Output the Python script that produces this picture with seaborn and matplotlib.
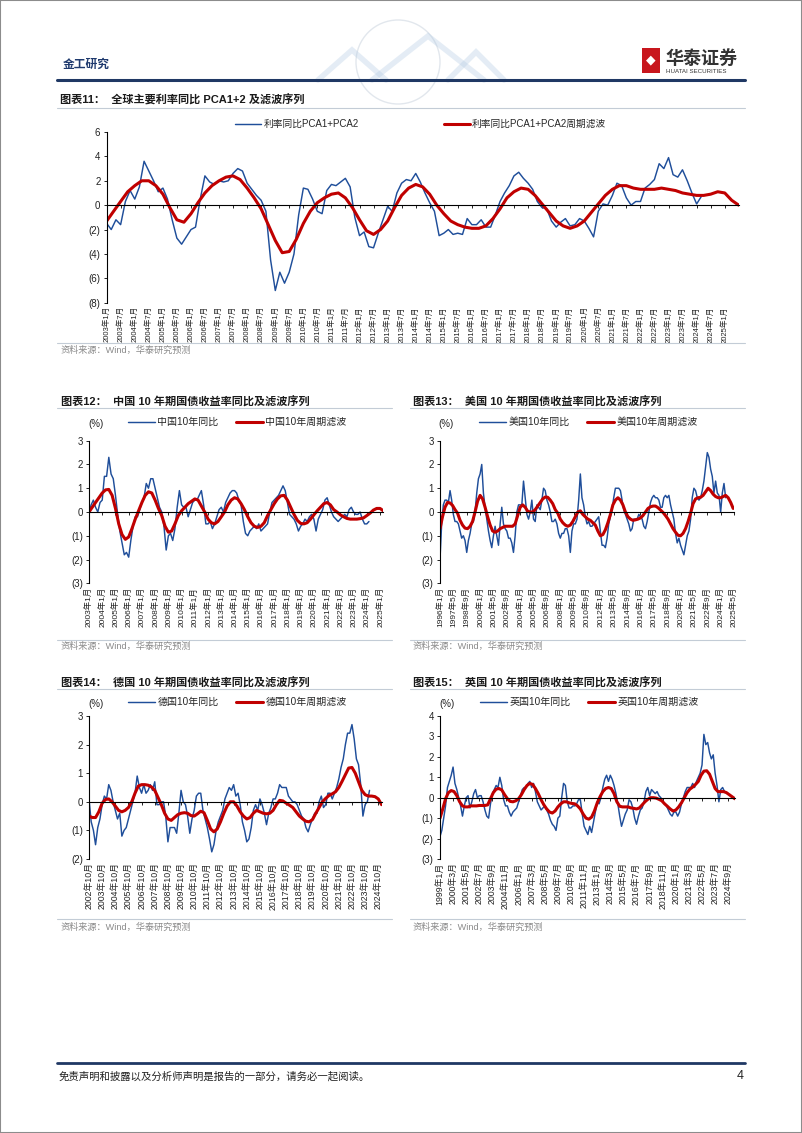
import numpy as np
import pandas as pd
import matplotlib
matplotlib.use("Agg")
import matplotlib.pyplot as plt
import matplotlib.dates as mdates
from matplotlib.lines import Line2D
from matplotlib.patches import Rectangle, Ellipse
from matplotlib.ticker import FuncFormatter
import seaborn as sns

sns.set_theme(style="white")
plt.rcParams["font.family"] = ["Liberation Sans", "Noto Sans CJK SC", "DejaVu Sans"]
plt.rcParams["axes.unicode_minus"] = False

BLUE = "#1f4e9a"
RED = "#c00000"
NAVY = "#1f3864"
RULE = "#c3ccd6"
W, H = 802, 1133

# ── 图表11: global PCA1+2 (blue every 2 months, red every 3 months, from 2003-01)
start_11 = "2003-01-01"
pca_yoy = [
    -1.5, -2.0, -1.2, -1.6, 0.3, 1.2,
    0.5, 1.5, 3.6, 2.8, 2.0, 1.1,
    1.4, 0.5, -1.2, -2.7, -3.2, -2.6,
    -2.0, -1.8, 0.5, 2.4, 1.9, 1.7,
    2.0, 1.9, 2.0, 2.6, 3.0, 2.8,
    1.8, 1.3, 0.8, 0.4, -0.5, -4.5,
    -7.0, -5.5, -6.4, -5.5, -4.0, -0.8,
    1.4, 1.3, 0.5, -0.5, -0.7, 1.2,
    1.7, 1.6, 1.9, 2.2, 1.5, -1.0,
    -2.5, -2.2, -3.4, -3.5, -2.3, -1.2,
    -0.1, -0.5, 1.0, 1.8, 2.1, 2.0,
    2.6, 1.9, 1.0, 0.2, -0.5, -2.5,
    -2.3, -2.0, -2.4, -2.3, -2.4, -1.1,
    -1.6, -1.6, -1.2, -1.8, -1.8, -0.8,
    0.3, 1.0, 1.6, 2.4, 2.7, 2.2,
    1.8, 1.3, 0.3, -0.2, -0.3, -1.3,
    -1.8, -1.4, -1.1, -1.7, -1.6, -1.1,
    -1.3, -1.9, -2.6, -0.5, 0.1, 0.0,
    0.8, 1.8, 1.6, 0.6, 0.0, 0.3,
    0.3, 1.4, 1.7, 2.1, 3.4, 3.0,
    3.9, 2.5, 2.3, 2.9, 2.0, 1.0,
    0.1, 0.7,
]
pca_filter = [
    -1.3, -0.5, 0.3, 1.1, 1.6, 2.0, 2.0, 1.6, 0.9, -0.2,
    -1.2, -1.4, -0.7, 0.2, 1.0, 1.6, 2.0, 2.3, 2.4, 2.1,
    1.4, 0.6, -0.3, -1.6, -2.9, -3.9, -3.8, -2.8, -1.5, -0.5,
    0.2, 0.6, 0.9, 1.0, 0.6, -0.2, -1.2, -2.1, -2.4, -2.0,
    -1.3, -0.2, 0.8, 1.4, 1.7, 1.5, 0.9, 0.0, -0.7, -1.3,
    -1.6, -1.8, -1.9, -1.9, -1.7, -1.1, -0.3, 0.6, 1.1, 1.4,
    1.3, 0.8, 0.1, -0.6, -1.3, -1.7, -1.9, -1.7, -1.3, -0.6,
    0.1, 0.8, 1.3, 1.6, 1.6, 1.4, 1.3, 1.3, 1.3, 1.4,
    1.3, 1.2, 1.0, 0.9, 0.8, 0.8, 0.9, 1.1, 1.0, 0.4,
    0.0,
]
ticks_11 = ("2003年1月 2003年7月 2004年1月 2004年7月 2005年1月 2005年7月 2006年1月 2006年7月 "
            "2007年1月 2007年7月 2008年1月 2008年7月 2009年1月 2009年7月 2010年1月 2010年7月 "
            "2011年1月 2011年7月 2012年1月 2012年7月 2013年1月 2013年7月 2014年1月 2014年7月 "
            "2015年1月 2015年7月 2016年1月 2016年7月 2017年1月 2017年7月 2018年1月 2018年7月 "
            "2019年1月 2019年7月 2020年1月 2020年7月 2021年1月 2021年7月 2022年1月 2022年7月 "
            "2023年1月 2023年7月 2024年1月 2024年7月 2025年1月").split()

# ── 图表12: China 10y
start_12 = "2003-01-01"
cn_yoy = [
    0.0, 0.3, 0.5, 0.2, 0.0, 0.4,
    0.5, 1.5, 1.5, 2.3, 1.6, 1.4,
    0.7, -0.1, -0.8, -1.3, -1.8, -1.7,
    -1.9, -1.2, -0.6, -0.2, -0.2, 0.1,
    0.4, 0.6, 1.2, 1.0, 1.4, 1.4,
    1.0, 0.6, 0.2, 0.0, -0.6, -1.6,
    -1.0, -0.9, -1.2, -0.7, 0.2, 0.9,
    0.3, 0.2, 0.2, -0.2, 0.1, 0.4,
    0.5, 0.5, 0.7, 0.9, 0.3, -0.5,
    -0.5, -0.4, -0.7, -0.5, -0.2, 0.1,
    0.2, 0.0, 0.4, 0.6, 0.8, 0.9,
    0.9, 0.8, 0.5, 0.3, -0.4, -0.9,
    -1.0, -0.8, -0.7, -0.6, -0.7, -0.5,
    -0.8, -0.7, -0.6, -0.5, 0.0, 0.4,
    0.5, 0.6, 0.7, 0.9, 1.1, 0.9,
    0.4, -0.1, -0.2, -0.3, -0.5, -0.8,
    -0.6, -0.5, -0.3, -0.4, -0.2, -0.1,
    -0.3, -0.8, -0.3, -0.1, 0.1, 0.5,
    0.6, 0.3, 0.0, -0.2, -0.3, -0.4,
    -0.3, -0.2, -0.1, -0.2, 0.1, 0.2,
    0.0, -0.1, -0.1, 0.0, -0.3, -0.5,
    -0.5, -0.4,
]
cn_filter = [
    0.0, 0.2, 0.4, 0.6, 0.8, 0.93, 0.95, 0.7, 0.15, -0.5,
    -0.95, -1.15, -1.05, -0.7, -0.3, 0.05, 0.4, 0.7, 0.85, 0.8,
    0.5, 0.15, -0.15, -0.6, -0.85, -0.8, -0.5, -0.15, 0.05, 0.2,
    0.35, 0.45, 0.55, 0.5, 0.25, 0.0, -0.3, -0.45, -0.5, -0.4,
    -0.2, 0.0, 0.3, 0.5, 0.6, 0.55, 0.35, 0.1, -0.2, -0.45,
    -0.6, -0.65, -0.6, -0.45, -0.15, 0.1, 0.35, 0.55, 0.68, 0.7,
    0.5, 0.2, -0.1, -0.35, -0.48, -0.5, -0.45, -0.3, -0.12, 0.05,
    0.2, 0.35, 0.4, 0.3, 0.1, 0.0, -0.12, -0.2, -0.27, -0.3,
    -0.3, -0.3, -0.28, -0.25, -0.15, -0.05, 0.08, 0.15, 0.15, 0.05,
]
ticks_12 = ("2003年1月 2004年1月 2005年1月 2006年1月 2007年1月 2008年1月 2009年1月 2010年1月 "
            "2011年1月 2012年1月 2013年1月 2014年1月 2015年1月 2016年1月 2017年1月 2018年1月 "
            "2019年1月 2020年1月 2021年1月 2022年1月 2023年1月 2024年1月 2025年1月").split()

# ── 图表13: US 10y
start_13 = "1996-01-01"
us_yoy = [
    -2.0, -0.5, 0.3, 0.5, 0.5, 0.4,
    0.9, 0.5, -0.1, -0.4, -0.4, -0.5,
    -0.8, -1.1, -1.0, -1.2, -1.7, -1.2,
    -0.9, -0.5, -0.4, 0.0, 0.8, 1.4,
    1.6, 2.0, 0.8, 0.2, -0.3, -0.8,
    -1.2, -1.5, -1.0, -0.6, -1.0, -1.4,
    -0.5, 0.2, -0.5, -0.7, -0.8, -1.1,
    -1.1, -1.3, -1.7, -1.0, 0.0, 0.3,
    0.3, 0.3, 1.3, 0.6, -0.1, -0.3,
    0.0, 0.5, -0.3, -0.4, 0.3, 0.2,
    0.1, 0.5, 1.0, 0.9, 0.5, 0.3,
    0.0, -0.4, -0.4, -0.3, -0.5, -0.9,
    -1.1, -0.9, -0.9, -0.7, -0.7, -1.0,
    -1.7, -0.8, -0.5, -0.5, -0.3, 0.5,
    1.6, 0.6, 0.3, -0.2, -0.5, -0.4,
    -0.6, -0.6, -0.5, -0.4, -0.3, -0.2,
    -0.8, -1.4, -1.4, -1.5, -1.1, -0.5,
    -0.2, 0.1, 0.6, 1.0, 1.0, 1.0,
    0.9, 0.5, 0.1, -0.1, -0.3, -0.5,
    -0.8, -0.7, -0.3, -0.3, -0.3, -0.1,
    -0.2, -0.3, -0.6, -0.7, -0.4, 0.0,
    0.4, 0.6, 0.7, 0.6, 0.6, 0.5,
    0.2, 0.2, 0.6, 0.7, 0.6, 0.7,
    0.3, 0.0, -0.3, -0.9, -1.3, -1.1,
    -1.4, -1.6, -1.8, -1.4, -1.0, -0.8,
    -0.3, 0.6, 1.0, 0.9, 0.6, 0.5,
    0.6, 0.9, 1.3, 1.9, 2.5, 2.3,
    1.8, 1.5, 0.8, 1.3, 0.8, 0.7,
    0.0, 0.8, 1.2, 0.6,
]
us_filter = [
    -0.7, -0.2, 0.2, 0.4, 0.38, 0.28, 0.1, -0.05, -0.35, -0.55,
    -0.68, -0.7, -0.6, -0.4, 0.0, 0.45, 0.7, 0.55, 0.2, -0.2,
    -0.55, -0.8, -0.85, -0.8, -0.7, -0.65, -0.6, -0.6, -0.6, -0.6,
    -0.5, -0.15, 0.2, 0.3, 0.2, 0.03, 0.0, 0.0, 0.1, 0.25,
    0.4, 0.55, 0.63, 0.62, 0.5, 0.35, 0.1, -0.05, -0.3, -0.45,
    -0.55, -0.6, -0.55, -0.4, -0.2, 0.0, 0.05, -0.1, -0.2, -0.3,
    -0.35, -0.45, -0.55, -0.8, -1.0, -0.95, -0.75, -0.45, -0.1, 0.3,
    0.5, 0.6, 0.5, 0.3, 0.0, -0.2, -0.3, -0.35, -0.33, -0.3,
    -0.25, -0.15, 0.0, 0.15, 0.22, 0.25, 0.25, 0.18, 0.08, -0.02,
    -0.15, -0.3, -0.5, -0.7, -0.85, -0.98, -1.0, -0.9, -0.7, -0.4,
    -0.05, 0.35, 0.55, 0.6, 0.62, 0.7, 0.85, 1.0, 0.9, 0.75,
    0.65, 0.6, 0.6, 0.65, 0.7, 0.6, 0.4, 0.15,
]
ticks_13 = ("1996年1月 1997年5月 1998年9月 2000年1月 2001年5月 2002年9月 2004年1月 2005年5月 "
            "2006年9月 2008年1月 2009年5月 2010年9月 2012年1月 2013年5月 2014年9月 2016年1月 "
            "2017年5月 2018年9月 2020年1月 2021年5月 2022年9月 2024年1月 2025年5月").split()

# ── 图表14: Germany 10y
start_14 = "2002-10-01"
de_yoy = [
    0.1, -0.7, -1.0, -1.5, -0.9, -0.6,
    -0.1, 0.2, 0.1, 0.6, 0.4, 0.0,
    -0.3, -0.6, -0.4, -1.2, -1.0, -0.9,
    -0.6, -0.3, 0.0, 0.3, 0.9, 0.5,
    0.3, 0.6, 0.3, 0.4, 0.6, 0.4,
    0.7, -0.1, -0.1, 0.0, 0.0, -0.5,
    -1.4, -0.9, -0.9, -0.9, -1.1, -0.4,
    0.4, 0.0, -0.1, -0.5, -1.1, -0.6,
    -0.3, 0.2, 0.3, 0.3, -0.3, -0.6,
    -0.9, -1.3, -1.75, -1.5, -1.0, -0.7,
    -0.5, -0.3, 0.1, 0.3, 0.5, 0.4,
    0.6, 0.2, 0.3, -0.1, -0.7, -1.0,
    -1.4, -1.3, -0.9, -0.3, -0.1, -0.3,
    0.1, -0.1, -0.4, -0.8, -0.4, -0.2,
    0.1, 0.1, 0.3, 0.6, 0.5, 0.5,
    0.5, 0.2, 0.1, 0.0, 0.0, -0.1,
    -0.3, -0.5, -0.6, -0.9, -1.05, -0.8,
    -0.6, -0.4, -0.4, 0.0, 0.2, -0.2,
    -0.1, 0.3, 0.3, 0.1, 0.3, 0.5,
    0.8, 1.2, 1.5, 2.0, 2.4, 2.4,
    2.7, 2.2, 1.5, 1.3, 0.6, -0.5,
    -0.1, 0.0, 0.4,
]
de_filter = [
    -0.5, -0.55, -0.55, -0.35, -0.05, 0.08, 0.1, 0.0, -0.15, -0.3,
    -0.35, -0.3, -0.2, 0.0, 0.3, 0.55, 0.6, 0.6, 0.58, 0.52,
    0.4, 0.15, -0.1, -0.4, -0.6, -0.65, -0.55, -0.45, -0.4, -0.38,
    -0.4, -0.48, -0.5, -0.42, -0.33, -0.38, -0.65, -0.95, -1.05, -0.95,
    -0.7, -0.4, -0.15, 0.0, 0.0, -0.15, -0.35, -0.5, -0.6, -0.55,
    -0.4, -0.3, -0.35, -0.4, -0.42, -0.4, -0.3, -0.1, 0.05, 0.03,
    -0.05, -0.12, -0.2, -0.35, -0.5, -0.6, -0.68, -0.7, -0.62, -0.4,
    -0.2, 0.0, 0.12, 0.22, 0.28, 0.35, 0.5, 0.72, 0.95, 1.18,
    1.2, 1.0, 0.7, 0.4, 0.25, 0.2, 0.2, 0.18, 0.1, -0.1,
]
ticks_14 = ("2002年10月 2003年10月 2004年10月 2005年10月 2006年10月 2007年10月 2008年10月 "
            "2009年10月 2010年10月 2011年10月 2012年10月 2013年10月 2014年10月 2015年10月 "
            "2016年10月 2017年10月 2018年10月 2019年10月 2020年10月 2021年10月 2022年10月 "
            "2023年10月 2024年10月").split()

# ── 图表15: UK 10y
start_15 = "1999-01-01"
uk_yoy = [
    -1.9, -1.6, -1.0, -0.4, 0.5, 0.8,
    1.1, 1.5, 0.7, 0.4, 0.0, -0.4,
    -0.9, -0.4, 0.0, 0.1, -0.5, -0.2,
    0.2, 0.4, 0.0, 0.1, 0.1, -0.2,
    -0.6, -0.9, -1.0, -0.3, 0.2, 0.4,
    0.6, 0.5, 1.0, 0.6, -0.1, -0.4,
    -0.4, -0.7, -0.9, -0.7, -0.6, -0.5,
    -0.2, 0.1, 0.4, 0.5, 0.5, 0.7,
    0.8, 0.5, 0.7, 0.3, -0.2, -0.4,
    -0.6, -0.5, -0.4, -0.6, -0.8, -1.1,
    -1.3, -1.4, -1.6, -1.0, -0.9, 0.0,
    0.7, 0.6, -0.2, -0.5, -0.5, -0.4,
    -0.4, -0.3, -0.1, -0.1, -0.8, -1.4,
    -1.6, -1.8, -1.4, -1.7, -1.2, -0.7,
    -0.2, -0.3, 0.0, 0.5, 0.9, 1.1,
    0.8, 1.1, 0.9, 0.6, 0.2, -0.3,
    -0.9, -1.4, -1.1, -0.8, -0.6, -0.1,
    -0.2, -0.5, -1.0, -1.3, -0.9, -0.6,
    -0.5, -0.2, 0.3, 0.5, 0.1, 0.4,
    0.3, 0.2, 0.3, 0.1, 0.0, -0.2,
    -0.3, -0.4, -0.6, -0.8, -0.9, -0.7,
    -0.7, -0.9, -0.7, -0.3, 0.0, 0.3,
    0.5, 0.5, 0.5, 0.7, 0.5, 0.8,
    1.0, 1.2, 1.6, 3.1, 2.6, 2.7,
    2.2, 1.9, 2.1, 1.2, 0.6, -0.2,
    0.4, 0.5, 0.3,
]
uk_filter = [
    -1.0, -0.55, -0.05, 0.25, 0.35, 0.3, 0.1, -0.2, -0.4, -0.45,
    -0.45, -0.4, -0.4, -0.4, -0.38, -0.38, -0.38, -0.35, -0.05, 0.25,
    0.42, 0.45, 0.38, 0.15, -0.05, -0.18, -0.2, -0.15, -0.05, 0.15,
    0.4, 0.6, 0.7, 0.65, 0.45, 0.2, -0.1, -0.35, -0.55, -0.7,
    -0.75, -0.65, -0.45, -0.3, -0.2, -0.2, -0.25, -0.28, -0.3, -0.4,
    -0.55, -0.8, -1.0, -1.05, -0.95, -0.65, -0.25, 0.05, 0.3, 0.45,
    0.5, 0.45, 0.2, -0.2, -0.42, -0.45, -0.45, -0.45, -0.5, -0.52,
    -0.55, -0.5, -0.35, -0.2, -0.08, 0.0, 0.0, -0.02, -0.08, -0.15,
    -0.3, -0.42, -0.55, -0.65, -0.6, -0.45, -0.25, 0.0, 0.25, 0.42,
    0.52, 0.65, 0.8, 1.1, 1.3, 1.32, 1.15, 0.8, 0.45, 0.3,
    0.3, 0.3, 0.25, 0.15, 0.05, -0.05,
]
ticks_15 = ("1999年1月 2000年3月 2001年5月 2002年7月 2003年9月 2004年11月 2006年1月 2007年3月 "
            "2008年5月 2009年7月 2010年9月 2011年11月 2013年1月 2014年3月 2015年5月 2016年7月 "
            "2017年9月 2018年11月 2020年1月 2021年3月 2022年5月 2023年7月 2024年9月").split()

fig = plt.figure(figsize=(W / 100, H / 100), dpi=100)


def fx(x):
    return x / W


def fy(y):
    return 1 - y / H


def paren(v, _):
    return f"({abs(v):.0f})" if v < -1e-9 else f"{v:.0f}"


def hline(x0, x1, y, color=RULE, lw=0.8):
    fig.add_artist(Line2D([fx(x0), fx(x1)], [fy(y), fy(y)], color=color, lw=lw))


def panel(box, start, blue, red, names, ylim, yticks, tick_step, tick_labels, xend,
          leg_xy, colspace, leg_fs, xlab_fs, pct_xy=None):
    left, top, width, height = box
    ax = fig.add_axes([fx(left), fy(top + height), width / W, height / H])
    df_b = pd.DataFrame({"x": mdates.date2num(pd.date_range(start, periods=len(blue), freq="2MS")),
                         "v": blue})
    df_r = pd.DataFrame({"x": mdates.date2num(pd.date_range(start, periods=len(red), freq="3MS")),
                         "v": red})
    sns.lineplot(data=df_b, x="x", y="v", color=BLUE, lw=1.05, estimator=None, ax=ax, legend=False)
    sns.lineplot(data=df_r, x="x", y="v", color=RED, lw=2.2, estimator=None, ax=ax, legend=False)

    t0 = pd.Timestamp(start)
    ax.set_xlim(mdates.date2num(t0), mdates.date2num(t0 + pd.DateOffset(months=xend)))
    ax.set_ylim(*ylim)
    ax.set_yticks(yticks)
    ax.yaxis.set_major_formatter(FuncFormatter(paren))
    ax.set_xlabel("")
    ax.set_ylabel("")

    for s in ("top", "right"):
        ax.spines[s].set_visible(False)
    ax.spines["left"].set_color("black")
    ax.spines["left"].set_linewidth(0.8)
    ax.spines["bottom"].set_position(("data", 0))
    ax.spines["bottom"].set_color("black")
    ax.spines["bottom"].set_linewidth(0.8)

    tpos = mdates.date2num(pd.date_range(start, periods=len(tick_labels), freq=tick_step))
    ax.set_xticks(tpos)
    ax.tick_params(axis="x", bottom=True, length=2.5, width=0.6, direction="out",
                   color="black", labelbottom=False)
    ax.tick_params(axis="y", left=True, length=2.5, width=0.6, direction="out",
                   color="black", labelsize=7, pad=2, labelcolor="#222222")

    sec = ax.secondary_xaxis(0.0)
    sec.set_xticks(tpos, labels=tick_labels)
    sec.tick_params(length=0, labelsize=xlab_fs, labelrotation=90, pad=2.5, labelcolor="#222222")
    sec.spines["bottom"].set_visible(False)

    handles = [Line2D([], [], color=BLUE, lw=1.05), Line2D([], [], color=RED, lw=2.2)]
    ax.legend(handles, names, loc="center left", bbox_to_anchor=(fx(leg_xy[0]), fy(leg_xy[1])),
              bbox_transform=fig.transFigure, ncol=2, frameon=False, fontsize=leg_fs,
              handlelength=2.7, handletextpad=0.25, columnspacing=colspace,
              borderpad=0, borderaxespad=0)
    if pct_xy is not None:
        fig.text(fx(pct_xy[0]), fy(pct_xy[1]), "(%)", fontsize=7, color="#222222", va="center")
    return ax


# ── page furniture
fig.add_artist(Rectangle((0, 0), 1, 1, transform=fig.transFigure, fill=False,
                         edgecolor="#8c8c8c", lw=1.5))
fig.add_artist(Ellipse((fx(398), fy(62)), 84 / W, 84 / H, transform=fig.transFigure, fill=False,
                       edgecolor="#e2e7ed", lw=1.0))
for pts in ([(318, 80), (352, 50), (386, 80)], [(372, 80), (428, 36), (484, 80)],
            [(448, 80), (476, 52), (504, 80)]):
    fig.add_artist(Line2D([fx(p[0]) for p in pts], [fy(p[1]) for p in pts],
                          color="#b4cbe3", lw=4, alpha=0.35, solid_joinstyle="miter"))
fig.text(fx(63), fy(65), "金工研究", fontsize=8.5, color="#1f3a6e", fontweight="bold", va="center")
hline(57, 745, 80, color=NAVY, lw=2.2)
fig.add_artist(Rectangle((fx(642), fy(73)), 18 / W, 25 / H, transform=fig.transFigure,
                         facecolor="#c8161d", edgecolor="none"))
fig.text(fx(651), fy(60), "◆", fontsize=9, color="white", ha="center", va="center",
         family=["DejaVu Sans"])
fig.text(fx(665), fy(59), "华泰证券", fontsize=13, color="#333333", fontweight="bold", va="center")
fig.text(fx(666), fy(71.5), "HUATAI SECURITIES", fontsize=4.4, color="#333333", va="center")

titles = [
    (60, 99, "图表11：  全球主要利率同比 PCA1+2 及滤波序列"),
    (61, 401, "图表12：  中国 10 年期国债收益率同比及滤波序列"),
    (413, 401, "图表13：  美国 10 年期国债收益率同比及滤波序列"),
    (61, 682, "图表14：  德国 10 年期国债收益率同比及滤波序列"),
    (413, 682, "图表15：  英国 10 年期国债收益率同比及滤波序列"),
]
for x, y, t in titles:
    fig.text(fx(x), fy(y), t, fontsize=8, fontweight="bold", color="#1a1a1a", va="center")
hline(57, 745, 108)
hline(57, 392, 408)
hline(410, 745, 408)
hline(57, 392, 689)
hline(410, 745, 689)

src = "资料来源：Wind，华泰研究预测"
for x, y in ((61, 350), (61, 646), (413, 646), (61, 927), (413, 927)):
    fig.text(fx(x), fy(y), src, fontsize=6.6, color="#8a8a8a", va="center")
hline(57, 745, 343)
hline(57, 392, 640)
hline(410, 745, 640)
hline(57, 392, 919)
hline(410, 745, 919)

hline(57, 745, 1063, color=NAVY, lw=2.0)
fig.text(fx(59), fy(1076), "免责声明和披露以及分析师声明是报告的一部分，请务必一起阅读。",
         fontsize=7.5, color="#222222", va="center")
fig.text(fx(744), fy(1076), "4", fontsize=9, color="#222222", va="center", ha="right")

# ── charts
panel((106.7, 132, 632, 170.7), start_11, pca_yoy, pca_filter,
      ["利率同比PCA1+PCA2", "利率同比PCA1+PCA2周期滤波"],
      (-8, 6), [-8, -6, -4, -2, 0, 2, 4, 6], "6MS", ticks_11, 270,
      (235, 124), 8.7, 7, 5.5)
panel((89, 440.7, 294.3, 142.6), start_12, cn_yoy, cn_filter,
      ["中国10年同比", "中国10年周期滤波"],
      (-3, 3), [-3, -2, -1, 0, 1, 2, 3], "12MS", ticks_12, 267,
      (128, 422), 1.7, 7.2, 6.0, pct_xy=(88, 424))
panel((440, 440.7, 294, 142.6), start_13, us_yoy, us_filter,
      ["美国10年同比", "美国10年周期滤波"],
      (-3, 3), [-3, -2, -1, 0, 1, 2, 3], "16MS", ticks_13, 352,
      (479, 422), 1.7, 7.2, 6.0, pct_xy=(438, 424))
panel((89, 716, 292.6, 143), start_14, de_yoy, de_filter,
      ["德国10年同比", "德国10年周期滤波"],
      (-2, 3), [-2, -1, 0, 1, 2, 3], "12MS", ticks_14, 267,
      (128, 702), 1.7, 7.2, 6.3, pct_xy=(88, 704))
panel((440, 716, 294.8, 143), start_15, uk_yoy, uk_filter,
      ["英国10年同比", "英国10年周期滤波"],
      (-3, 4), [-3, -2, -1, 0, 1, 2, 3, 4], "14MS", ticks_15, 315,
      (480, 702), 1.7, 7.2, 6.3, pct_xy=(439, 704))

fig.savefig("out.png", dpi=100)
